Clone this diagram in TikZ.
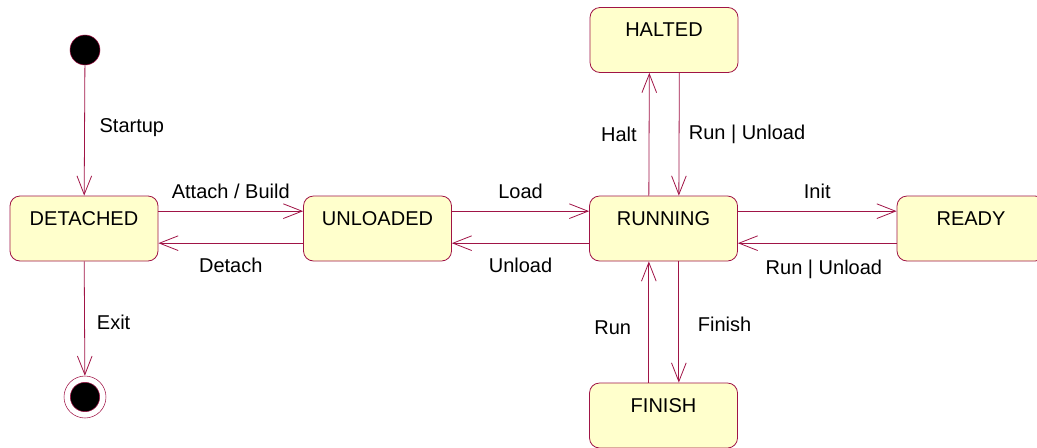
\documentclass[tikz,border=0pt]{standalone}
\usepackage{fontspec}
\setmainfont{Liberation Sans}
\usetikzlibrary{arrows.meta}
\definecolor{umlred}{RGB}{160,20,70}
\definecolor{umlfill}{RGB}{255,255,204}
\tikzset{
  state/.style={draw=umlred,fill=umlfill,rounded corners=7.5pt,line width=0.6pt,
    minimum width=111pt,minimum height=48.75pt,inner sep=0pt,
    text height=21.75pt,text depth=27pt},
  startstate/.style={circle,draw=umlred,fill=black,minimum size=22.5pt,inner sep=0pt},
  endstate/.style={circle,draw=umlred,minimum size=31.5pt,inner sep=0pt,
    path picture={\draw[umlred,fill=black] (path picture bounding box.center) circle (11pt);}},
  trans/.style={draw=umlred,line width=0.6pt,-{Straight Barb[length=14pt,width=11pt]}},
  lbl/.style={inner sep=2pt}
}
\begin{document}
\begin{tikzpicture}[x=0.75pt,y=-0.75pt,every node/.style={font=\fontsize{15}{18}\selectfont}]
        \useasboundingbox (0,0) rectangle (1037,447);
        %% States
        \node[startstate] (S) at (85,50) {};
        \node[state] (D) at (84,228.5) {DETACHED};
        \node[state] (U) at (377.5,228.5) {UNLOADED};
        \node[state] (R) at (663.5,228.5) {RUNNING};
        \node[state] (Y) at (971,228.5) {READY};
        \node[state] (H) at (664,40) {HALTED};
        \node[state] (F) at (663.5,415.5) {FINISH};
        \node[endstate] (E) at (85,397) {};
        %% Transitions
        \draw[trans] (S) -- node[lbl,right=9pt,pos=0.48] {Startup} (D);
        \draw[trans] (D) -- node[lbl,right=7pt,pos=0.53] {Exit} (E);
        \draw[trans] ([yshift=13pt]D.east) -- node[lbl,above=7pt] {Attach / Build} ([yshift=13pt]U.west);
        \draw[trans] ([yshift=-11pt]U.west) -- node[lbl,below=9pt] {Detach} ([yshift=-11pt]D.east);
        \draw[trans] ([yshift=13pt]U.east) -- node[lbl,above=7pt] {Load} ([yshift=13pt]R.west);
        \draw[trans] ([yshift=-11pt]R.west) -- node[lbl,below=9pt] {Unload} ([yshift=-11pt]U.east);
        \draw[trans] ([yshift=13pt]R.east) -- node[lbl,above=7pt] {Init} ([yshift=13pt]Y.west);
        \draw[trans] ([yshift=-11pt]Y.west) -- node[lbl,below=10pt,xshift=5pt] {Run | Unload} ([yshift=-11pt]R.east);
        \draw[trans] ([xshift=-11pt]R.north) -- node[lbl,left=7pt] {Halt} ([xshift=-11pt]H.south);
        \draw[trans] ([xshift=11.5pt]H.south) -- node[lbl,right=5pt,pos=0.5] {Run | Unload} ([xshift=11.5pt]R.north);
        \draw[trans] ([xshift=11.5pt]R.south) -- node[lbl,right=12pt,pos=0.52] {Finish} ([xshift=11.5pt]F.north);
        \draw[trans] ([xshift=-11pt]F.north) -- node[lbl,left=11pt,pos=0.45] {Run} ([xshift=-11pt]R.south);
    \end{tikzpicture}
\end{document}
